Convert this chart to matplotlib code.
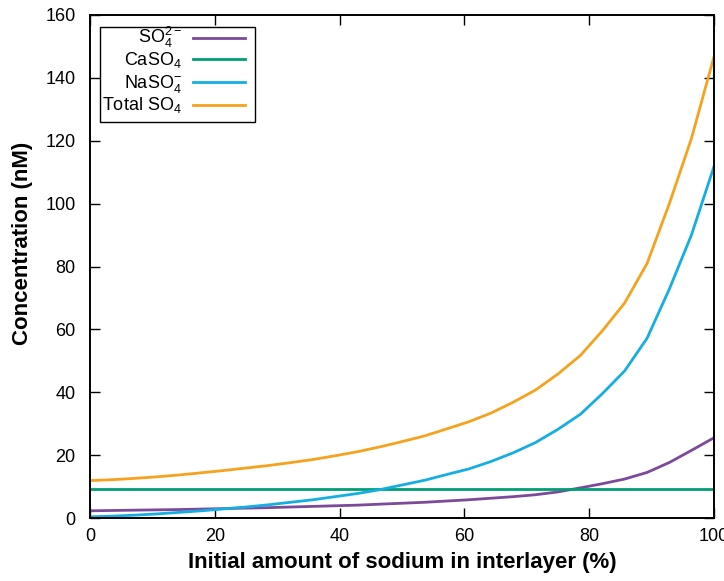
import matplotlib
matplotlib.use("Agg")
import matplotlib.pyplot as plt
from matplotlib.patches import Rectangle

plt.rcParams["font.family"] = ["Liberation Sans", "DejaVu Sans"]
plt.rcParams["mathtext.fontset"] = "custom"
plt.rcParams["mathtext.rm"] = "Liberation Sans"
plt.rcParams["mathtext.it"] = "Liberation Sans:italic"
plt.rcParams["mathtext.bf"] = "Liberation Sans:bold"

# sodium fraction in interlayer (%)
sodium = [0, 3.6, 7.1, 10.7, 14.3, 17.9, 21.4, 25, 28.6, 32.1, 35.7, 39.3, 42.9, 46.4,
          50, 53.6, 57.1, 60.7, 64.3, 67.9, 71.4, 75, 78.6, 82.1, 85.7, 89.3, 92.9, 96.4, 100]

so4 = [2.3, 2.4, 2.5, 2.6, 2.7, 2.85, 3.0, 3.15, 3.3, 3.5, 3.7, 3.9, 4.1, 4.4,
       4.7, 5.0, 5.4, 5.8, 6.3, 6.8, 7.4, 8.3, 9.6, 10.9, 12.4, 14.5, 17.7, 21.5, 25.5]
caso4 = [9.2] * len(sodium)
naso4 = [0.4, 0.6, 0.9, 1.3, 1.8, 2.3, 2.9, 3.5, 4.2, 5.0, 5.8, 6.8, 7.8, 9.0,
         10.5, 12.0, 13.8, 15.6, 18.0, 20.8, 24.0, 28.2, 33.0, 39.5, 46.8, 57.2, 73.0, 90.0, 111.7]
total = [11.9, 12.2, 12.6, 13.1, 13.7, 14.4, 15.1, 15.9, 16.7, 17.6, 18.6, 19.8, 21.1, 22.6,
         24.3, 26.1, 28.3, 30.6, 33.4, 36.9, 40.7, 45.8, 51.7, 59.5, 68.4, 81.0, 100.2, 120.7, 146.6]

labels = ["SO$_4^{2-}$", "CaSO$_4$", "NaSO$_4^{-}$", "Total SO$_4$"]
colors = ["#7d4a9b", "#009e73", "#15aee2", "#f5a21e"]
series = [so4, caso4, naso4, total]

fig = plt.figure(figsize=(7.24, 5.81), dpi=100)
ax = fig.add_axes([0.1243, 0.1084, 0.8617, 0.8658])

for ys, c in zip(series, colors):
    ax.plot(sodium, ys, color=c, lw=2.0, solid_joinstyle="miter")

ax.set_xlim(0, 100)
ax.set_ylim(0, 160)
ax.set_xticks(range(0, 101, 20))
ax.set_yticks(range(0, 161, 20))
ax.tick_params(direction="in", length=7, width=1.0, top=True, right=True,
               labelsize=13, colors="black")
ax.tick_params(axis="x", pad=7)
ax.tick_params(axis="y", pad=10.5)
for s in ax.spines.values():
    s.set_linewidth(1.4)

ax.set_xlabel("Initial amount of sodium in interlayer (%)", fontsize=16, fontweight="bold")
ax.set_ylabel("Concentration (nM)", fontsize=16, fontweight="bold")
ax.xaxis.set_label_coords(0.5, -0.068)
ax.yaxis.set_label_coords(-0.091, 0.546)

# gnuplot-style key: right-aligned text followed by the line sample
ax.add_patch(Rectangle((0.016, 0.788), 0.2485, 0.189, transform=ax.transAxes,
                       fc="white", ec="black", lw=1.0, zorder=5))
rows = [0.955, 0.912, 0.866, 0.822]
for lab, c, yy in zip(labels, colors, rows):
    ax.text(0.147, yy - 0.011, lab, transform=ax.transAxes, ha="right", va="baseline",
            fontsize=13, zorder=6)
    ax.plot([0.165, 0.249], [yy, yy], transform=ax.transAxes, color=c,
            lw=2.0, zorder=6)

fig.savefig("out.png", dpi=100)
